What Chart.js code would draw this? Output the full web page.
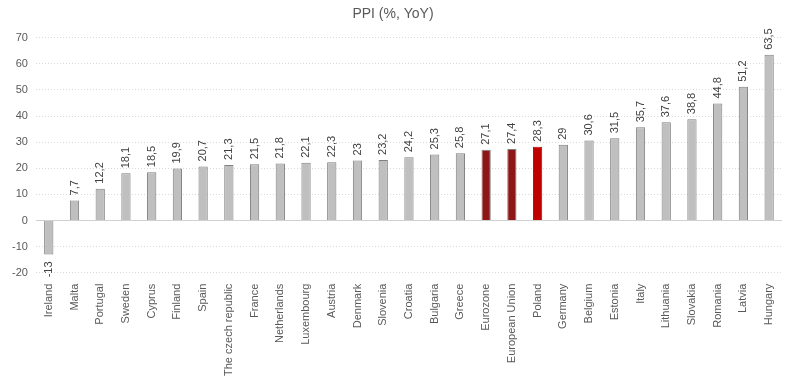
<!DOCTYPE html>
<html>
<head>
<meta charset="utf-8">
<script src="https://cdn.jsdelivr.net/npm/chart.js@4"></script>
<style>
  html, body { margin: 0; padding: 0; background: #fff; }
  #wrap { width: 795px; height: 379px; }
</style>
</head>
<body>
<div id="wrap"><canvas id="ppiChart"></canvas></div>
<script>
// categories and values
const countries = ['Ireland', 'Malta', 'Portugal', 'Sweden', 'Cyprus', 'Finland', 'Spain',
    'The czech republic', 'France', 'Netherlands', 'Luxembourg', 'Austria', 'Denmark',
    'Slovenia', 'Croatia', 'Bulgaria', 'Greece', 'Eurozone', 'European Union', 'Poland',
    'Germany', 'Belgium', 'Estonia', 'Italy', 'Lithuania', 'Slovakia', 'Romania', 'Latvia', 'Hungary'];
const ppiValues = [-13, 7.7, 12.2, 18.1, 18.5, 19.9, 20.7, 21.3, 21.5, 21.8, 22.1, 22.3, 23,
    23.2, 24.2, 25.3, 25.8, 27.1, 27.4, 28.3, 29, 30.6, 31.5, 35.7, 37.6, 38.8, 44.8, 51.2, 63.5];
const yTicks = [-20, -10, 0, 10, 20, 30, 40, 50, 60, 70];

// colour per bar: EU aggregates dark red, Poland red, the rest grey
const barColors = countries.map(c => {
    if (c === 'Poland') return '#c00000';
    if (c === 'Eurozone' || c === 'European Union') return '#8f1616';
    return '#bfbfbf';
});
const borderColors = countries.map(c => c === 'Poland' ? '#c00000' : '#7f7f7f');

// value labels, rotated like the original
const valueLabels = {
    id: 'valueLabels',
    afterDatasetsDraw(chart) {
        const ctx = chart.ctx;
        const meta = chart.getDatasetMeta(0);
        ctx.save();
        ctx.font = '11px "Liberation Sans", Arial, sans-serif';
        ctx.fillStyle = '#404040';
        ctx.textBaseline = 'middle';
        meta.data.forEach((bar, i) => {
            const v = ppiValues[i];
            const txt = String(v).replace('.', ',');
            ctx.save();
            ctx.translate(bar.x, bar.y);
            ctx.rotate(-Math.PI / 2);
            if (v >= 0) {
                ctx.textAlign = 'left';
                ctx.fillText(txt, 5, 0);
            } else {
                ctx.textAlign = 'right';
                ctx.fillText(txt, -7, 0);
            }
            ctx.restore();
        });
        ctx.restore();
    }
};

// solid zero line over the dotted grid
const zeroLine = {
    id: 'zeroLine',
    beforeDatasetsDraw(chart) {
        const ctx = chart.ctx;
        const y = Math.round(chart.scales.y.getPixelForValue(0)) + 0.5;
        ctx.save();
        ctx.strokeStyle = '#d0d0d0';
        ctx.lineWidth = 1;
        ctx.beginPath();
        ctx.moveTo(chart.chartArea.left, y);
        ctx.lineTo(chart.chartArea.right, y);
        ctx.stroke();
        ctx.restore();
    }
};

const ctx = document.getElementById('ppiChart').getContext('2d');
new Chart(ctx, {
    type: 'bar',
    data: {
        labels: countries,
        datasets: [{
            data: ppiValues,
            backgroundColor: barColors,
            borderColor: borderColors,
            borderWidth: 1,
            barPercentage: 0.36,
            categoryPercentage: 1
        }]
    },
    options: {
        responsive: true,
        maintainAspectRatio: false,
        animation: false,
        layout: { padding: { left: 4, right: 13, top: 2, bottom: 0 } },
        plugins: {
            legend: { display: false },
            tooltip: { enabled: false },
            title: {
                display: true,
                text: 'PPI (%, YoY)',
                color: '#595959',
                font: { family: '"Liberation Sans", Arial, sans-serif', size: 14, weight: 'normal' },
                padding: { top: 4, bottom: 15 }
            }
        },
        scales: {
            x: {
                grid: { display: false },
                border: { display: false },
                ticks: {
                    color: '#595959',
                    font: { family: '"Liberation Sans", Arial, sans-serif', size: 11 },
                    minRotation: 90,
                    maxRotation: 90,
                    autoSkip: false,
                    padding: 3
                }
            },
            y: {
                min: -20,
                max: 70,
                afterBuildTicks: (axis) => { axis.ticks = yTicks.map(v => ({ value: v })); },
                grid: {
                    color: '#d9d9d9',
                    drawTicks: false
                },
                border: { display: false, dash: [1, 2] },
                ticks: {
                    color: '#595959',
                    font: { family: '"Liberation Sans", Arial, sans-serif', size: 11 },
                    padding: 8
                }
            }
        }
    },
    plugins: [zeroLine, valueLabels]
});
</script>
</body>
</html>
